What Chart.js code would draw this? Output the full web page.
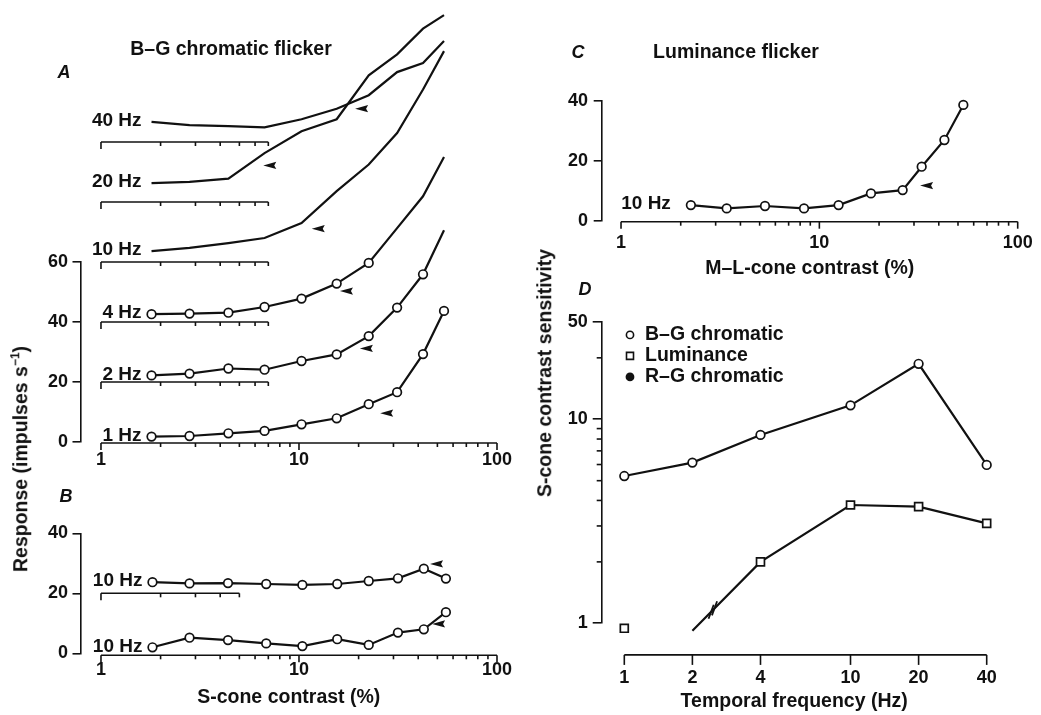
<!DOCTYPE html>
<html>
<head>
<meta charset="utf-8">
<title>S-cone contrast responses</title>
<script src="https://cdn.jsdelivr.net/npm/chart.js@4.4.1/dist/chart.umd.min.js"></script>
<style>
  html, body { margin: 0; padding: 0; background: #fff; }
  #fig { position: relative; width: 1041px; height: 715px; overflow: hidden; color: #111;
         font-family: "Liberation Sans", Arial, Helvetica, sans-serif; font-weight: bold; }
  #fig canvas { position: absolute; }
  .txt { position: absolute; white-space: nowrap; line-height: 1; font-size: 19px; transform: translate(-50%, -50%); }
  .panel { font-style: italic; font-size: 18px; }
  .rot { transform: translate(-50%, -50%) rotate(-90deg); }
  sup { font-size: 12px; vertical-align: 0; position: relative; top: -8px; }
</style>
</head>
<body>
<div id="fig">
  <canvas id="chartA" width="520" height="480" style="left:0;top:0"></canvas>
  <canvas id="chartB" width="520" height="235" style="left:0;top:480px"></canvas>
  <canvas id="chartC" width="521" height="290" style="left:520px;top:0"></canvas>
  <canvas id="chartD" width="521" height="425" style="left:520px;top:290px"></canvas>

  <div class="txt panel" style="left:64px;top:72px">A</div>
  <div class="txt panel" style="left:66px;top:496px">B</div>
  <div class="txt panel" style="left:578px;top:52px">C</div>
  <div class="txt panel" style="left:585px;top:289px">D</div>
  <div class="txt" style="left:231px;top:49px;font-size:19.5px">B–G chromatic flicker</div>
  <div class="txt" style="left:736px;top:52px;font-size:19.5px">Luminance flicker</div>
  <div class="txt rot" style="left:21px;top:459px;font-size:19.5px">Response (impulses s<sup>−1</sup>)</div>
  <div class="txt rot" style="left:545px;top:373px;font-size:19.5px">S-cone contrast sensitivity</div>
</div>

<script>
const FONT = '"Liberation Sans", Arial, Helvetica, sans-serif';
const INK = '#111';

// Panel A: B-G chromatic flicker, each frequency shifted up by 20 impulses/s
const freqLabelsA = ['1 Hz', '2 Hz', '4 Hz', '10 Hz', '20 Hz', '40 Hz'];
const offsetsA = [0, 20, 40, 60, 80, 100];
const contrastA = [1.8, 2.8, 4.4, 6.7, 10.3, 15.5, 22.5, 31.3, 42.3, 54];
const respA1 = [1.8, 2.0, 2.9, 3.7, 5.9, 7.9, 12.6, 16.6, 29.3, 43.7];
const respA2 = [2.2, 2.8, 4.5, 4.1, 7.0, 9.2, 15.3, 24.8, 35.9, 50.6];
const respA4 = [2.6, 2.8, 3.1, 5.0, 7.8, 12.8, 19.7, 31.3, 41.9, 55.0];
const respA10 = [3.6, 4.7, 6.3, 8.0, 13.0, 23.6, 32.5, 43.0, 57.5, 70.3];
const respA20 = [6.3, 6.7, 7.8, 16.3, 23.6, 27.6, 42.2, 49.2, 57.8, 62.3];
const respA40 = [6.7, 5.6, 5.3, 4.9, 7.6, 11.1, 15.6, 23.3, 26.3, 33.7];
const arrowContrastA = [25.7, 20.3, 16.1, 11.6, 6.6, 19.2];
const arrowRespA = [9.6, 11.2, 10.3, 11.1, 12.2, 11.1];

// Panel B
const freqLabelsB = ['10 Hz', '10 Hz'];
const offsetsB = [20, 0];
const contrastB = [1.82, 2.8, 4.38, 6.83, 10.4, 15.6, 22.5, 31.6, 42.7, 55.2];
const respBUpper = [3.7, 3.3, 3.4, 3.1, 2.8, 3.1, 4.1, 5.0, 8.2, 4.9];
const respBLower = [2.0, 5.2, 4.4, 3.3, 2.4, 4.7, 2.8, 6.9, 8.0, 13.7];
const arrowContrastB = [45.9, 47];
const arrowRespB = [9.8, 9.8];

// Panel C: luminance flicker
const freqLabelsC = ['10 Hz'];
const contrastC = [2.25, 3.41, 5.32, 8.37, 12.5, 18.2, 26.3, 32.8, 42.7, 53.2];
const respC = [5.2, 4.1, 4.9, 4.1, 5.2, 9.1, 10.2, 18.0, 26.9, 38.6];
const arrowContrastC = [32.2];
const arrowRespC = [11.7];

// Panel D: sensitivity vs temporal frequency
const freqD = [1, 2, 4, 10, 20, 40];
const sensBG = [5.27, 6.13, 8.38, 11.7, 18.7, 5.97];
const sensLum = [0.945, 0.92, 2.0, 3.8, 3.73, 3.09];
const sensRG = [0.876, 0.835, 0.866, 0.876, 0.86, 0.876];
const legendD = ['B–G chromatic', 'Luminance', 'R–G chromatic'];

// ticks
const contrastMajor = [1, 10, 100];
const contrastMinor = [2, 3, 4, 5, 6, 7, 8, 9, 20, 30, 40, 50, 60, 70, 80, 90];
const miniTicksA = [1, 2, 3, 4, 5, 6, 7];
const miniTicksB = [1, 2, 3, 4, 5];
const respTicksA = [0, 20, 40, 60];
const respTicksB = [0, 20, 40];
const respTicksC = [0, 20, 40];
const freqTicksD = [1, 2, 4, 10, 20, 40];
const sensTickVals = [1, 10, 30];
const sensTickText = ['1', '10', '50'];
const sensMinor = [2, 3, 4, 5, 6, 7, 8, 9, 20];

Chart.defaults.font.family = FONT;
Chart.defaults.font.size = 18;
Chart.defaults.font.weight = 'bold';
Chart.defaults.color = INK;
Chart.defaults.animation = false;
Chart.defaults.plugins.legend.display = false;
Chart.defaults.plugins.tooltip.enabled = false;

function noPad(s) { s.paddingLeft = s.paddingRight = s.paddingTop = s.paddingBottom = 0; }
function fixTicks(values) { return s => { s.ticks = values.map(v => ({ value: v })); }; }

function seg(ctx, x1, y1, x2, y2) {
  ctx.beginPath();
  ctx.moveTo(x1, y1);
  ctx.lineTo(x2, y2);
  ctx.stroke();
}

// horizontal axis with downward ticks, placed through the x scale
function drawXAxis(ctx, xs, py, from, to, majors, minors, majLen, minLen) {
  seg(ctx, xs.getPixelForValue(from), py, xs.getPixelForValue(to), py);
  majors.forEach(v => { const px = xs.getPixelForValue(v); seg(ctx, px, py, px, py + majLen); });
  minors.forEach(v => { const px = xs.getPixelForValue(v); seg(ctx, px, py, px, py + minLen); });
}

function drawArrow(ctx, x, y) {
  ctx.beginPath();
  ctx.moveTo(x, y);
  ctx.lineTo(x + 13, y - 3.6);
  ctx.lineTo(x + 11, y);
  ctx.lineTo(x + 13, y + 3.6);
  ctx.closePath();
  ctx.fill();
}

const lineStyle = {
  showLine: true, borderColor: INK, borderWidth: 2.2,
  pointRadius: 4.3, pointBackgroundColor: '#fff', pointBorderColor: INK, pointBorderWidth: 1.7,
  clip: false
};

function responsePlugin(cfg) {
  return {
    id: 'resp' + cfg.name,
    beforeDatasetsDraw(chart) {
      const ctx = chart.ctx;
      const xs = chart.scales.x, ys = chart.scales.y;
      ctx.save();
      ctx.strokeStyle = INK;
      ctx.lineWidth = 1.6;
      drawXAxis(ctx, xs, ys.getPixelForValue(0) + cfg.xAxisDy, 1, 100, contrastMajor, contrastMinor, 7, 4);
      cfg.miniAxes.forEach(off => {
        const t = cfg.miniTicks;
        drawXAxis(ctx, xs, ys.getPixelForValue(off), t[0], t[t.length - 1], [t[0]], t.slice(1), 7, 4);
      });
      ctx.restore();
    },
    afterDatasetsDraw(chart) {
      const ctx = chart.ctx;
      const xs = chart.scales.x, ys = chart.scales.y;
      ctx.save();
      ctx.fillStyle = INK;
      ctx.font = 'bold 19px ' + FONT;
      ctx.textAlign = 'right';
      ctx.textBaseline = 'middle';
      chart.data.datasets.forEach((ds, i) => {
        const p = chart.getDatasetMeta(i).data[0];
        ctx.fillText(ds.label, p.x - cfg.labelGap, p.y - 1);
        drawArrow(ctx, xs.getPixelForValue(cfg.arrowX[i]), ys.getPixelForValue(cfg.arrowY[i] + cfg.offsets[i]));
      });
      ctx.restore();
    }
  };
}

// log contrast axis; min sits a little below 1 so that the y axis stands left of the 1 tick
function contrastScale(min, height, pad, title) {
  return {
    type: 'logarithmic', min: min, max: 100,
    grid: { display: false, drawTicks: false }, border: { display: false },
    afterBuildTicks: fixTicks(contrastMajor),
    ticks: { padding: pad, autoSkip: false, maxRotation: 0, callback: v => String(v) },
    title: title,
    afterFit: s => { s.height = height; noPad(s); }
  };
}

// the response axis line and its ticks come from the library's own border and tick marks
function responseScale(max, ticks, width, pad) {
  return {
    type: 'linear', min: 0, max: max,
    grid: { display: true, drawOnChartArea: false, drawTicks: true, tickLength: 8,
            color: INK, tickColor: INK, lineWidth: 1.6, tickWidth: 1.6 },
    border: { display: true, color: INK, width: 1.6 },
    afterBuildTicks: fixTicks(ticks),
    ticks: { padding: pad, callback: v => String(v) },
    afterFit: s => { s.width = width; noPad(s); }
  };
}

// ---- Panel A
const seriesA = [respA1, respA2, respA4, respA10, respA20, respA40];
new Chart(document.getElementById('chartA'), {
  type: 'scatter',
  data: {
    datasets: seriesA.map((r, i) => Object.assign({
      label: freqLabelsA[i],
      data: r.map((v, j) => ({ x: contrastA[j], y: v + offsetsA[i] }))
    }, lineStyle))
  },
  options: {
    responsive: false,
    layout: { padding: { top: 262, right: 23, left: 0, bottom: 0 } },
    scales: {
      x: contrastScale(0.7881, 38, 7, { display: false }),
      y: responseScale(60, respTicksA, 80.5, 4.5)
    }
  },
  plugins: [responsePlugin({
    name: 'A', xAxisDy: 1,
    miniAxes: offsetsA.slice(1), miniTicks: miniTicksA,
    labelGap: 10, arrowX: arrowContrastA, arrowY: arrowRespA, offsets: offsetsA
  })]
});

// ---- Panel B
const seriesB = [respBUpper, respBLower];
new Chart(document.getElementById('chartB'), {
  type: 'scatter',
  data: {
    datasets: seriesB.map((r, i) => Object.assign({
      label: freqLabelsB[i],
      data: r.map((v, j) => ({ x: contrastB[j], y: v + offsetsB[i] }))
    }, lineStyle))
  },
  options: {
    responsive: false,
    layout: { padding: { top: 53.3, right: 23, left: 0, bottom: 0 } },
    scales: {
      x: contrastScale(0.7881, 61.7, 6, { display: true, text: 'S-cone contrast (%)', font: { size: 19.5 }, padding: { top: 0, bottom: 6 } }),
      y: responseScale(40, respTicksB, 80.5, 4.5)
    }
  },
  plugins: [responsePlugin({
    name: 'B', xAxisDy: 2,
    miniAxes: [20], miniTicks: miniTicksB,
    labelGap: 10, arrowX: arrowContrastB, arrowY: arrowRespB, offsets: offsetsB
  })]
});

// ---- Panel C
new Chart(document.getElementById('chartC'), {
  type: 'scatter',
  data: {
    datasets: [Object.assign({
      label: freqLabelsC[0],
      data: respC.map((v, j) => ({ x: contrastC[j], y: v }))
    }, lineStyle)]
  },
  options: {
    responsive: false,
    layout: { padding: { top: 100.7, right: 23.3, left: 0, bottom: 0 } },
    scales: {
      x: contrastScale(0.7991, 69.3, 11.8, { display: true, text: 'M–L-cone contrast (%)', font: { size: 19.5 }, padding: { top: 0, bottom: 10 } }),
      y: responseScale(40, respTicksC, 81.7, 5.7)
    }
  },
  plugins: [responsePlugin({
    name: 'C', xAxisDy: 1,
    miniAxes: [], miniTicks: [],
    labelGap: 20, arrowX: arrowContrastC, arrowY: arrowRespC, offsets: [0]
  })]
});

// ---- Panel D
const sensPlugin = {
  id: 'sensAxes',
  beforeDatasetsDraw(chart) {
    const ctx = chart.ctx, area = chart.chartArea;
    const ys = chart.scales.y;
    ctx.save();
    ctx.strokeStyle = INK;
    ctx.lineWidth = 1.6;
    drawXAxis(ctx, chart.scales.x, ys.getPixelForValue(0.7), 1, 40, freqTicksD, [], 10, 0);
    sensMinor.forEach(v => { const py = ys.getPixelForValue(v); seg(ctx, area.left - 5, py, area.left, py); });
    ctx.restore();
  },
  afterDatasetsDraw(chart) {
    const ctx = chart.ctx, area = chart.chartArea;
    ctx.save();
    // break marks on the luminance curve between 2 and 4 Hz
    const pts = chart.getDatasetMeta(1).data;
    const a = pts[1], b = pts[2];
    const len = Math.hypot(b.x - a.x, b.y - a.y);
    const ux = (b.x - a.x) / len, uy = (b.y - a.y) / len;
    const cx = a.x + (b.x - a.x) * 0.3, cy = a.y + (b.y - a.y) * 0.3;
    const sx = Math.cos(70 * Math.PI / 180), sy = -Math.sin(70 * Math.PI / 180);
    ctx.strokeStyle = INK;
    ctx.lineWidth = 1.8;
    [-2.4, 2.4].forEach(d => {
      const mx = cx + ux * d, my = cy + uy * d;
      seg(ctx, mx - sx * 7.5, my - sy * 7.5, mx + sx * 7.5, my + sy * 7.5);
    });

    // legend
    const lx = area.left + 28.3, tx = area.left + 43.3;
    const rows = [area.top + 13, area.top + 34, area.top + 55];
    ctx.lineWidth = 1.6;
    ctx.fillStyle = '#fff';
    ctx.beginPath(); ctx.arc(lx, rows[0], 3.6, 0, Math.PI * 2); ctx.fill(); ctx.stroke();
    ctx.beginPath(); ctx.rect(lx - 3.5, rows[1] - 3.5, 7, 7); ctx.fill(); ctx.stroke();
    ctx.fillStyle = INK;
    ctx.beginPath(); ctx.arc(lx, rows[2], 4.4, 0, Math.PI * 2); ctx.fill();
    ctx.font = 'bold 19.5px ' + FONT;
    ctx.textAlign = 'left';
    ctx.textBaseline = 'middle';
    legendD.forEach((t, i) => ctx.fillText(t, tx, rows[i]));
    ctx.restore();
  }
};

new Chart(document.getElementById('chartD'), {
  type: 'scatter',
  data: {
    datasets: [
      Object.assign({ label: legendD[0], data: freqD.map((f, i) => ({ x: f, y: sensBG[i] })) }, lineStyle),
      Object.assign({}, lineStyle, {
        label: legendD[1], data: freqD.map((f, i) => ({ x: f, y: sensLum[i] })),
        pointStyle: 'rect', pointRadius: 5.6,
        segment: { borderColor: c => c.p0DataIndex === 0 ? 'rgba(0,0,0,0)' : INK }
      }),
      Object.assign({}, lineStyle, {
        label: legendD[2], data: freqD.map((f, i) => ({ x: f, y: sensRG[i] })),
        showLine: false, pointRadius: 4.5, pointBackgroundColor: INK, pointBorderWidth: 0
      })
    ]
  },
  options: {
    responsive: false,
    layout: { padding: { top: 31.9, right: 54.3, left: 0, bottom: 0 } },
    scales: {
      x: {
        type: 'logarithmic', min: 0.7945, max: 40,
        grid: { display: false, drawTicks: false }, border: { display: false },
        afterBuildTicks: fixTicks(freqTicksD),
        ticks: { padding: 44.4, autoSkip: false, maxRotation: 0, callback: v => String(v) },
        title: { display: true, text: 'Temporal frequency (Hz)', font: { size: 19.5 }, padding: { top: 0, bottom: 2 } },
        afterFit: s => { s.height = 91.7; noPad(s); }
      },
      y: {
        type: 'logarithmic', min: 1, max: 30,
        grid: { display: true, drawOnChartArea: false, drawTicks: true, tickLength: 9,
                color: INK, tickColor: INK, lineWidth: 1.6, tickWidth: 1.6 },
        border: { display: true, color: INK, width: 1.6 },
        afterBuildTicks: fixTicks(sensTickVals),
        ticks: { padding: 5, callback: v => { const i = sensTickVals.indexOf(v); return i < 0 ? '' : sensTickText[i]; } },
        afterFit: s => { s.width = 81.7; noPad(s); }
      }
    }
  },
  plugins: [sensPlugin]
});
</script>
</body>
</html>
